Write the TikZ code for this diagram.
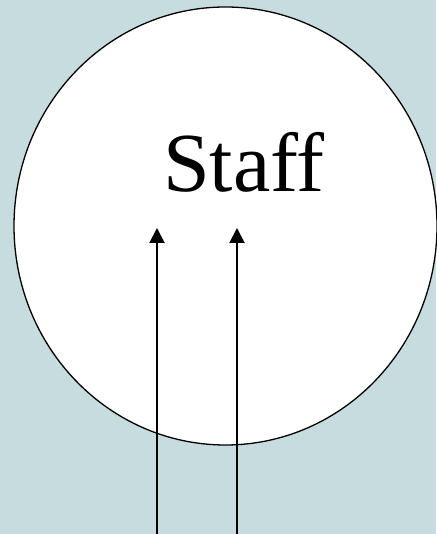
\documentclass[tikz,border=0pt]{standalone}
\usepackage{fontspec}
\setmainfont{Liberation Serif}
\usetikzlibrary{arrows.meta,shapes.geometric}
\definecolor{bgcol}{RGB}{198,220,223}
\tikzset{
  flow/.style={line width=2pt,-{Triangle[width=15pt,length=15pt]}},
  staffcircle/.style={draw=black,fill=white,line width=1.3pt,ellipse,minimum width=423pt,minimum height=438pt,inner sep=0pt}
}
\begin{document}
\begin{tikzpicture}[x=1pt,y=1pt]
\useasboundingbox (0,0) rectangle (436,534);
\fill[bgcol] (0,0) rectangle (436,534);
\node[staffcircle] (staff) at (225.5,308) {};
\node[anchor=base,font=\fontsize{84}{84}\selectfont,inner sep=0pt] (label) at (244,342) {Staff};
\coordinate (b1) at (157,0);
\coordinate (b2) at (237,0);
\coordinate (t1) at (157,306);
\coordinate (t2) at (237,306);
\draw[flow] (b1) -- (t1);
\draw[flow] (b2) -- (t2);
\end{tikzpicture}
\end{document}
